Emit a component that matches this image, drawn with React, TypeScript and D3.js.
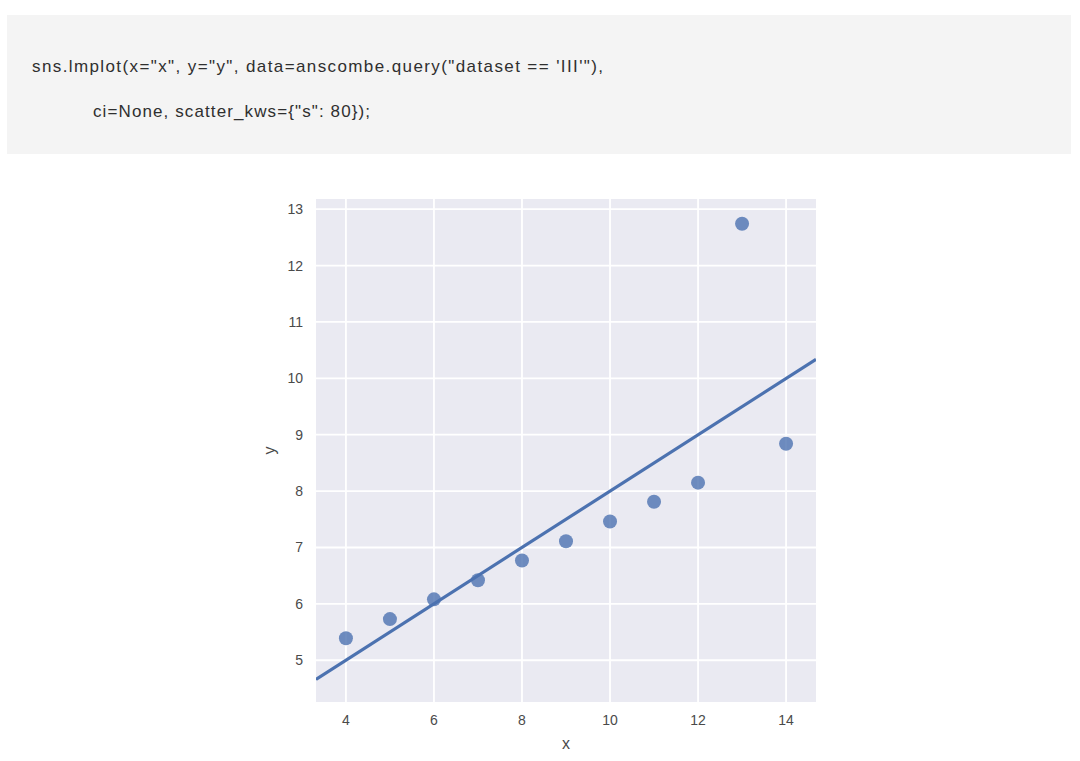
import React from "react";
import * as d3 from "d3";

const xValues = [10, 8, 13, 9, 11, 14, 6, 4, 12, 7, 5];
const yValues = [7.46, 6.77, 12.74, 7.11, 7.81, 8.84, 6.08, 5.39, 8.15, 6.42, 5.73];
const xTicks = [4, 6, 8, 10, 12, 14];
const yTicks = [5, 6, 7, 8, 9, 10, 11, 12, 13];
const codeLines = [
  `sns.lmplot(x="x", y="y", data=anscombe.query("dataset == 'III'"),`,
  `ci=None, scatter_kws={"s": 80});`,
];

const W = 1080;
const H = 761;
const plot = { left: 316, right: 816, top: 199, bottom: 702 };
const blue = "#4C72B0";
const font = "'Liberation Sans', Arial, Helvetica, sans-serif";

export default function App() {
  const x = d3.scaleLinear().domain([3.32, 14.68]).range([plot.left, plot.right]);
  const y = d3.scaleLinear().domain([4.26, 13.18]).range([plot.bottom, plot.top]);

  const mx = d3.mean(xValues) as number;
  const my = d3.mean(yValues) as number;
  const sxy = d3.sum(xValues.map((v, i) => (v - mx) * (yValues[i] - my)));
  const sxx = d3.sum(xValues.map((v) => (v - mx) * (v - mx)));
  const slope = sxy / sxx;
  const intercept = my - slope * mx;
  const [x0, x1] = x.domain();
  const lineGen = d3
    .line<number>()
    .x((d) => x(d))
    .y((d) => y(intercept + slope * d));

  return (
    <svg
      width={W}
      height={H}
      style={{ position: "absolute", left: 0, top: 0, background: "#fff" }}
    >
      <rect x={7} y={15} width={1064} height={139} fill="#f4f4f4" />
      <text
        x={32}
        y={72}
        fontFamily={font}
        fontSize={17}
        fill="#2f2f2f"
        textLength={571}
        lengthAdjust="spacing"
      >
        {codeLines[0]}
      </text>
      <text
        x={93}
        y={117}
        fontFamily={font}
        fontSize={17}
        fill="#2f2f2f"
        textLength={277}
        lengthAdjust="spacing"
      >
        {codeLines[1]}
      </text>

      <rect
        x={plot.left}
        y={plot.top}
        width={plot.right - plot.left}
        height={plot.bottom - plot.top}
        fill="#EAEAF2"
      />
      <clipPath id="plotclip">
        <rect
          x={plot.left}
          y={plot.top}
          width={plot.right - plot.left}
          height={plot.bottom - plot.top}
        />
      </clipPath>
      {xTicks.map((t) => (
        <line
          key={"gx" + t}
          x1={x(t)}
          x2={x(t)}
          y1={plot.top}
          y2={plot.bottom}
          stroke="#fff"
          strokeWidth={1.8}
        />
      ))}
      {yTicks.map((t) => (
        <line
          key={"gy" + t}
          x1={plot.left}
          x2={plot.right}
          y1={y(t)}
          y2={y(t)}
          stroke="#fff"
          strokeWidth={1.8}
        />
      ))}
      <g clipPath="url(#plotclip)">
        {xValues.map((v, i) => (
          <circle
            key={"p" + i}
            cx={x(v)}
            cy={y(yValues[i])}
            r={7}
            fill={blue}
            fillOpacity={0.8}
          />
        ))}
        <path
          d={lineGen([x0, x1]) as string}
          fill="none"
          stroke={blue}
          strokeWidth={3.2}
        />
      </g>
      {xTicks.map((t) => (
        <text
          key={"tx" + t}
          x={x(t)}
          y={720}
          textAnchor="middle"
          dominantBaseline="central"
          fontFamily={font}
          fontSize={14}
          fill="#4a4a4a"
        >
          {t}
        </text>
      ))}
      {yTicks.map((t) => (
        <text
          key={"ty" + t}
          x={303}
          y={y(t)}
          textAnchor="end"
          dominantBaseline="central"
          fontFamily={font}
          fontSize={14}
          fill="#4a4a4a"
        >
          {t}
        </text>
      ))}
      <text
        x={(plot.left + plot.right) / 2}
        y={743}
        textAnchor="middle"
        dominantBaseline="central"
        fontFamily={font}
        fontSize={16}
        fill="#4a4a4a"
      >
        x
      </text>
      <text
        transform={`translate(269, ${(plot.top + plot.bottom) / 2}) rotate(-90)`}
        textAnchor="middle"
        dominantBaseline="central"
        fontFamily={font}
        fontSize={16}
        fill="#4a4a4a"
      >
        y
      </text>
    </svg>
  );
}
